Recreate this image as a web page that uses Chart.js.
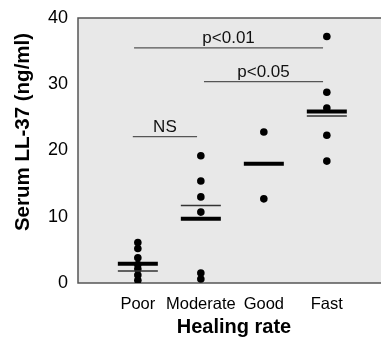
<!DOCTYPE html>
<html>
<head>
<meta charset="utf-8">
<script src="https://cdn.jsdelivr.net/npm/chart.js@4/dist/chart.umd.min.js"></script>
<style>
html,body{margin:0;padding:0;background:#fff;}
#wrap{width:381px;height:337px;}
</style>
</head>
<body>
<div id="wrap"><canvas id="c" width="381" height="337"></canvas></div>
<script>
const categories = ['Poor', 'Moderate', 'Good', 'Fast'];
const poorValues = [6.1, 5.2, 3.8, 2.8, 2.1, 1.2, 0.4];
const moderateValues = [19.2, 15.4, 13.0, 10.7, 1.5, 0.6];
const goodValues = [22.8, 12.7];
const fastValues = [37.2, 28.8, 26.4, 22.3, 18.4];
const meanValues = [2.9, 9.7, 18.0, 25.9];
const medianValues = [1.8, 11.7, null, 25.2];
const yTicks = [0, 10, 20, 30, 40];
const comparisons = [
  { label: 'NS', from: 0.92, to: 1.94, y: 22.1 },
  { label: 'p<0.01', from: 0.94, to: 3.94, y: 35.5 },
  { label: 'p<0.05', from: 2.05, to: 3.94, y: 30.4 }
];
const yTitle = 'Serum LL-37 (ng/ml)';
const xTitle = 'Healing rate';

const groups = [poorValues, moderateValues, goodValues, fastValues];
const dotPoints = [];
groups.forEach((vals, i) => vals.forEach(v => dotPoints.push({ x: i + 1, y: v })));
const meanPoints = meanValues.map((v, i) => ({ x: i + 1, y: v }));
const medianPoints = medianValues.map((v, i) => v === null ? null : { x: i + 1, y: v }).filter(p => p);

const datasets = [];
comparisons.forEach(c => datasets.push({
  type: 'line',
  data: [{ x: c.from, y: c.y }, { x: c.to, y: c.y }],
  borderColor: '#555',
  borderWidth: 1.3,
  pointRadius: 0,
  fill: false
}));
datasets.push({
  type: 'scatter',
  data: medianPoints,
  pointStyle: 'line',
  pointRadius: 20,
  pointBorderWidth: 1.5,
  borderColor: '#333',
  backgroundColor: '#333',
  pointHoverRadius: 20
});
datasets.push({
  type: 'scatter',
  data: meanPoints,
  pointStyle: 'line',
  pointRadius: 20,
  pointBorderWidth: 4,
  borderColor: '#000',
  backgroundColor: '#000',
  pointHoverRadius: 20
});
datasets.push({
  type: 'scatter',
  data: dotPoints,
  pointRadius: 3.8,
  pointBorderWidth: 0,
  backgroundColor: '#000',
  borderColor: '#000'
});

const boxPlugin = {
  id: 'box',
  beforeDatasetsDraw(chart) {
    const { ctx, chartArea: a } = chart;
    ctx.save();
    ctx.fillStyle = '#e8e8e8';
    ctx.fillRect(a.left, a.top, a.right - a.left, a.bottom - a.top);
    ctx.strokeStyle = '#555';
    ctx.lineWidth = 1.5;
    ctx.beginPath();
    ctx.moveTo(a.right + 2, a.top);
    ctx.lineTo(a.left, a.top);
    ctx.lineTo(a.left, a.bottom);
    ctx.lineTo(a.right + 2, a.bottom);
    ctx.stroke();
    ctx.restore();
  },
  afterDatasetsDraw(chart) {
    const { ctx } = chart;
    const xs = chart.scales.x, ys = chart.scales.y;
    ctx.save();
    ctx.fillStyle = '#111';
    ctx.font = '17px "Liberation Sans", Arial, sans-serif';
    ctx.textAlign = 'center';
    ctx.textBaseline = 'alphabetic';
    comparisons.forEach(c => {
      const cx = (xs.getPixelForValue(c.from) + xs.getPixelForValue(c.to)) / 2;
      ctx.fillText(c.label, cx, ys.getPixelForValue(c.y) - 5);
    });
    ctx.restore();
  },
  afterDraw(chart) {
    const { ctx } = chart;
    ctx.save();
    ctx.fillStyle = '#000';
    ctx.textAlign = 'center';
    ctx.textBaseline = 'middle';
    ctx.font = 'bold 20px "Liberation Sans", Arial, sans-serif';
    ctx.fillText(xTitle, 234, 327);
    ctx.translate(23, 132);
    ctx.rotate(-Math.PI / 2);
    ctx.font = 'bold 20.5px "Liberation Sans", Arial, sans-serif';
    ctx.fillText(yTitle, 0, 0);
    ctx.restore();
  }
};

function zeroPad(s) { s.paddingLeft = 0; s.paddingRight = 0; s.paddingTop = 0; s.paddingBottom = 0; }

new Chart(document.getElementById('c'), {
  type: 'scatter',
  data: { datasets },
  plugins: [boxPlugin],
  options: {
    responsive: false,
    animation: false,
    events: [],
    layout: { autoPadding: false, padding: { top: 18, right: 0, bottom: 0, left: 0 } },
    plugins: { legend: { display: false }, tooltip: { enabled: false } },
    scales: {
      x: {
        type: 'linear',
        min: 0.05,
        max: 4.86,
        grid: { display: false, drawTicks: false },
        border: { display: false },
        afterFit(s) { s.height = 54; zeroPad(s); },
        afterBuildTicks(s) { s.ticks = categories.map((c, i) => ({ value: i + 1 })); },
        ticks: {
          padding: 12,
          color: '#000',
          font: { family: '"Liberation Sans", Arial, sans-serif', size: 16.5 },
          callback: (v) => categories[v - 1] || ''
        }
      },
      y: {
        min: 0,
        max: 40,
        grid: { display: false, drawTicks: false },
        border: { display: false },
        afterFit(s) { s.width = 78; zeroPad(s); },
        afterBuildTicks(s) { s.ticks = yTicks.map(v => ({ value: v })); },
        ticks: {
          padding: 10,
          color: '#000',
          font: { family: '"Liberation Sans", Arial, sans-serif', size: 18 }
        }
      }
    }
  }
});
</script>
</body>
</html>
